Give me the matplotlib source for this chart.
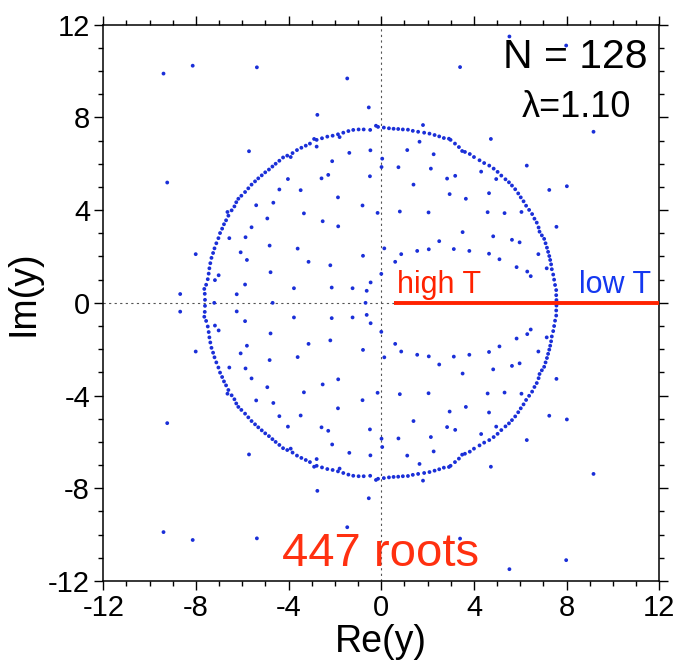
import matplotlib
matplotlib.use("Agg")
import matplotlib.pyplot as plt
from matplotlib.ticker import MultipleLocator
import numpy as np

plt.rcParams['font.family'] = ['Liberation Sans', 'DejaVu Sans']

# Roots in the upper half plane (Im > 0); lower half are complex conjugates.
circle_re = [-7.61, -7.62, -7.64, -7.56, -7.49, -7.45, -7.42, -7.38, -7.33, -7.26, -7.20, -7.12,
             -7.03, -6.96, -6.87, -6.79, -6.70, -6.60, -6.64, -6.46, -6.34, -6.26, -6.17, -6.04,
             -5.88, -5.74, -5.60, -5.45, -5.31, -5.16, -5.01, -4.85, -4.70, -4.56, -4.40, -4.24,
             -4.06, -3.91, -3.83, -3.64, -3.45, -3.26, -3.08, -2.90, -2.79, -2.56, -2.33, -2.10,
             -1.87, -1.80, -1.64, -1.42, -1.21, -0.98, -0.76, -0.48, -0.23, -0.14,
             0.11, 0.33, 0.53, 0.73, 0.93, 1.15, 1.36, 1.59, 1.85, 2.08, 2.30, 2.50, 2.70, 2.92,
             2.99, 3.18, 3.35, 3.49, 3.61, 3.82, 4.00, 4.24, 4.44, 4.66, 4.85, 5.02, 5.18, 5.36,
             5.51, 5.64, 5.78, 5.91, 6.02, 6.14, 6.25, 6.38, 6.51, 6.61, 6.71, 6.79, 6.83, 6.93,
             7.03, 7.09, 7.15, 7.20, 7.25, 7.29, 7.33, 7.36, 7.42, 7.46, 7.50, 7.55, 7.55, 7.56]
circle_im = [0.13, 0.39, 0.60, 0.78, 1.02, 1.26, 1.49, 1.71, 1.94, 2.15, 2.35, 2.57,
             2.79, 3.01, 3.20, 3.39, 3.56, 3.76, 3.92, 3.99, 4.16, 4.34, 4.49, 4.62,
             4.78, 4.94, 5.10, 5.24, 5.37, 5.50, 5.63, 5.75, 5.88, 6.00, 6.13, 6.27,
             6.35, 6.29, 6.46, 6.59, 6.69, 6.78, 6.87, 7.07, 7.03, 7.10, 7.17, 7.21,
             7.27, 7.15, 7.34, 7.41, 7.46, 7.48, 7.48, 7.46, 7.64, 7.59,
             7.56, 7.53, 7.51, 7.50, 7.48, 7.47, 7.42, 7.38, 7.34, 7.30, 7.24, 7.18, 7.11, 7.08,
             7.03, 6.87, 6.72, 6.55, 6.51, 6.42, 6.29, 6.15, 6.03, 5.92, 5.79, 5.65, 5.49, 5.33,
             5.20, 5.06, 4.90, 4.72, 4.55, 4.38, 4.19, 4.01, 3.83, 3.63, 3.46, 3.25, 3.07, 2.91,
             2.76, 2.57, 2.38, 2.20, 2.02, 1.85, 1.66, 1.45, 1.22, 1.00, 0.77, 0.55, 0.33, 0.12]

inner_re = [-0.47, -1.38, -2.12, -2.79, -2.29, -2.58, -4.03, -4.40, -3.48, -1.87, -0.49, -0.81,
            -0.16, -4.66, -5.40, -3.34, -4.92, -2.53, -1.86, -5.60, -5.86, -6.56, -4.82, -3.61,
            -6.07, -5.80, -3.14, -2.20, -0.79, -7.02, -7.18, -4.78, -5.88, -6.24, -3.77, -2.14,
            -1.24, -0.46, -0.63,
            0.04, 0.01, 0.13, 0.00,
            0.74, 2.14, 2.84, 3.19, 1.39, 0.80, 2.04, 2.95, 3.65, 1.12, 1.65, 2.26, 4.31, 4.96,
            4.65, 4.59, 5.32, 6.05, 3.51, 4.83, 5.64, 5.97, 2.50, 1.55, 2.05, 3.13, 3.80, 4.65,
            5.10, 5.84, 6.30, 6.45, 7.14, 6.78, 0.86, 0.60]
inner_im = [6.58, 6.47, 6.11, 6.74, 5.52, 5.37, 5.34, 4.89, 4.86, 4.55, 5.46, 4.20,
            3.88, 4.32, 4.21, 3.86, 3.64, 3.52, 3.30, 3.26, 2.83, 2.79, 2.47, 2.34,
            2.18, 1.85, 1.77, 1.62, 2.03, 1.19, 0.98, 1.32, 0.79, 0.37, 0.63, 0.66,
            0.63, 0.88, 0.52,
            6.22, 5.86, 2.35, 1.25,
            5.85, 5.79, 5.36, 5.48, 5.10, 3.94, 3.90, 4.69, 4.49, 6.59, 6.95, 6.41, 5.66, 5.34,
            4.73, 3.91, 3.87, 3.92, 3.05, 2.87, 2.72, 2.61, 2.66, 2.24, 2.31, 2.32, 2.24, 2.12,
            1.88, 1.54, 1.35, 1.15, 1.49, 2.10, 2.10, 1.77]

outer_re = [-9.40, -8.14, -5.37, -1.47, -0.54, -2.76, -9.24, -8.01, -8.68, -5.71,
            1.80, 4.73, 6.28, 7.25, 8.01, 7.56, 9.16, 3.40, 5.53, 7.98]
outer_im = [9.89, 10.23, 10.16, 9.68, 8.43, 8.11, 5.19, 2.10, 0.38, 6.54,
            7.67, 7.07, 5.92, 4.87, 5.03, 3.28, 7.38, 10.17, 11.49, 11.10]

real_roots = [-7.21, -4.69, -0.68]

ticks = [-12, -8, -4, 0, 4, 8, 12]
N_label = "N = 128"
lam_label = "λ=1.10"
roots_label = "447 roots"

up_re = np.array(circle_re + inner_re + outer_re)
up_im = np.array(circle_im + inner_im + outer_im)
re_all = np.concatenate([up_re, up_re, np.array(real_roots)])
im_all = np.concatenate([up_im, -up_im, np.zeros(len(real_roots))])

fig = plt.figure(figsize=(6.79, 6.65), dpi=100)
ax = fig.add_axes([0.1521, 0.1263, 0.8189, 0.8366])

ax.axhline(0, color='#555555', lw=0.8, ls=(0, (2, 3)), zorder=1)
ax.axvline(0, color='#555555', lw=0.8, ls=(0, (2, 3)), zorder=1)

ax.scatter(re_all, im_all, s=7.5, color='#1a2fd8', edgecolors='none', zorder=3)

ax.plot([0.53, 12], [0, 0], color='#ff2200', lw=2.8, solid_capstyle='butt', zorder=4)

ax.set_xlim(-12, 12)
ax.set_ylim(-12, 12)
ax.set_xticks(ticks)
ax.set_yticks(ticks)
ax.set_xticklabels([str(t) for t in ticks])
ax.set_yticklabels([str(t) for t in ticks])
ax.xaxis.set_minor_locator(MultipleLocator(1))
ax.yaxis.set_minor_locator(MultipleLocator(1))
ax.tick_params(which='both', direction='out', top=True, right=True, width=1.0, color='black')
ax.tick_params(which='major', length=6.5, labelsize=21, pad=3)
ax.tick_params(which='minor', length=3.5)
for sp in ax.spines.values():
    sp.set_linewidth(1.1)

ax.set_xlabel("Re(y)", fontsize=27, labelpad=1)
ax.set_ylabel("Im(y)", fontsize=27)
ax.yaxis.set_label_coords(-0.112, 0.518)

ax.text(11.49, 10.14, N_label, fontsize=29.5, ha='right', va='baseline', color='black', zorder=2)
ax.text(10.80, 8.03, lam_label, fontsize=26, ha='right', va='baseline', color='black', zorder=2)
ax.text(0.66, 0.44, "high T", fontsize=22, ha='left', va='baseline', color='#ff2200')
ax.text(11.66, 0.44, "low T", fontsize=22, ha='right', va='baseline', color='#1438f0')
ax.text(-0.05, -11.37, roots_label, fontsize=34, ha='center', va='baseline', color='#ff3010')

fig.savefig("out.png", dpi=100)
